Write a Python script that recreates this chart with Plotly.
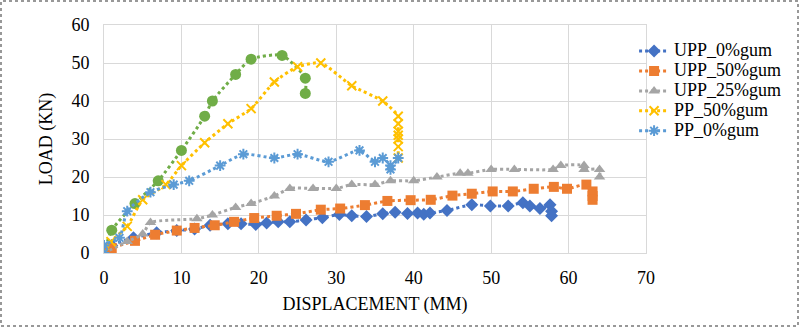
import plotly.graph_objects as go

# UPP_0%gum
upp0_x = [0, 1, 3.8, 6.8, 9.4, 11.7, 13.7, 16, 17.7, 19.6, 21, 22.5, 24, 26.1, 28.2, 30.4, 32, 33.9, 36, 37.6, 39.2, 40.5, 41.3, 42.1, 44.3, 47.5, 49.9, 52.2, 54.1, 55, 56.3, 57.6, 57.8, 57.8]
upp0_y = [0, 2, 4, 5.3, 5.9, 6.3, 7.3, 7.7, 7.7, 7.5, 7.9, 8.2, 8.2, 8.7, 9.3, 10.1, 9.8, 9.6, 10.3, 10.7, 10.4, 10.5, 10.2, 10.5, 11.2, 12.7, 12.4, 12.4, 13.2, 12.4, 11.7, 12.7, 11, 9.8]

# UPP_50%gum
upp50_x = [0, 1, 4, 6.6, 9.4, 11.7, 14.3, 16.8, 19.4, 22.3, 24.8, 28, 30.5, 33.7, 36.6, 39.6, 42.2, 45, 47.5, 50.2, 52.8, 55.5, 58.1, 59.8, 62.3, 63.1, 63.1, 63.1]
upp50_y = [0, 1.3, 3.2, 4.8, 5.9, 6.6, 7.3, 8.2, 9.2, 9.8, 10.3, 11.4, 11.7, 12.6, 13.7, 13.9, 14, 15.1, 15.6, 16.2, 16.2, 16.9, 17.4, 16.9, 18, 16.2, 15, 14]

# UPP_25%gum
upp25_x = [0, 3, 5, 6, 12, 14, 17, 19, 22, 24, 27, 30, 32, 35, 37, 40, 43, 46, 47, 50, 53, 58, 59, 62, 62, 64, 64]
upp25_y = [0, 3, 5, 8, 9, 10, 12, 13, 15, 17, 17, 17, 18, 18, 19, 19, 20, 21, 21, 22, 22, 22, 23, 23, 22, 22, 20]

# PP_50%gum
pp50_x = [0, 0.9, 3, 5, 8, 10, 13, 16, 19, 22, 25, 28, 32, 36, 38, 38, 38, 38, 38, 38, 38]
pp50_y = [0, 3, 7, 14, 18, 23, 29, 34, 38, 45, 49, 50, 44, 40, 36, 34, 32, 31, 30, 28, 25]

# PP_0%gum
pp0_x = [0, 0, 2, 3, 6, 9, 11, 15, 18, 22, 25, 29, 33, 35, 36, 37, 37, 38]
pp0_y = [0, 2, 4, 11, 16, 18, 19, 23, 26, 25, 26, 24, 27, 24, 25, 23, 22, 25]

# unlabeled green series
green_x = [0, 1, 4, 7, 10, 13, 14, 17, 19, 23, 26, 26]
green_y = [0, 6, 13, 19, 27, 36, 40, 47, 51, 52, 46, 42]

FONT = "Liberation Serif"

fig = go.Figure()

def add(x, y, name, color, symbol, size, show=True, open_marker=False):
    marker = dict(symbol=symbol, size=size, color=color)
    if open_marker:
        marker["line"] = dict(color=color, width=2)
    fig.add_trace(go.Scatter(
        x=x, y=y, name="<span style='font-size:18px'>%s</span>" % name,
        mode="lines+markers",
        line=dict(color=color, width=3, dash="dot", shape="spline", smoothing=0.6),
        marker=marker, showlegend=show))

add(green_x, green_y, "", "#70AD47", "circle", 11, show=False)
add(upp0_x, upp0_y, "UPP_0%gum", "#4472C4", "diamond", 10)
add(upp50_x, upp50_y, "UPP_50%gum", "#ED7D31", "square", 10)
add(upp25_x, upp25_y, "UPP_25%gum", "#A5A5A5", "triangle-up", 10)
add(pp50_x, pp50_y, "PP_50%gum", "#FFC000", "x-thin-open", 9, open_marker=True)
add(pp0_x, pp0_y, "PP_0%gum", "#5B9BD5", "asterisk-open", 9, open_marker=True)

axis_common = dict(
    showgrid=True, gridcolor="#D9D9D9", gridwidth=1,
    showline=True, linecolor="#D9D9D9", mirror=True, linewidth=1,
    zeroline=False, ticks="",
    tickfont=dict(family=FONT, size=18, color="black"),
)

fig.update_layout(
    width=800, height=328,
    margin=dict(l=104, r=154, t=25, b=75),
    paper_bgcolor="white", plot_bgcolor="white",
    font=dict(family=FONT, size=18, color="black"),
    xaxis=dict(range=[0, 70], dtick=10, ticklabelstandoff=8,
               title=dict(text="DISPLACEMENT (MM)", font=dict(family=FONT, size=18), standoff=10), **axis_common),
    yaxis=dict(range=[0, 60], dtick=10, ticklabelstandoff=10,
               title=dict(text="LOAD (KN)", font=dict(family=FONT, size=18), standoff=14), **axis_common),
    legend=dict(x=0.978, y=0.951, xanchor="left", yanchor="top", font=dict(family=FONT, size=13),
                tracegroupgap=0, bgcolor="rgba(0,0,0,0)"),
    showlegend=True,
    shapes=[dict(type="rect", xref="paper", yref="paper",
                 x0=(1 - 104) / 542, x1=(798 - 104) / 542,
                 y0=(253 - 326) / 228, y1=(253 - 1) / 228,
                 line=dict(color="#777777", width=1.5, dash="dot"))],
)

fig.write_html("out.html")
